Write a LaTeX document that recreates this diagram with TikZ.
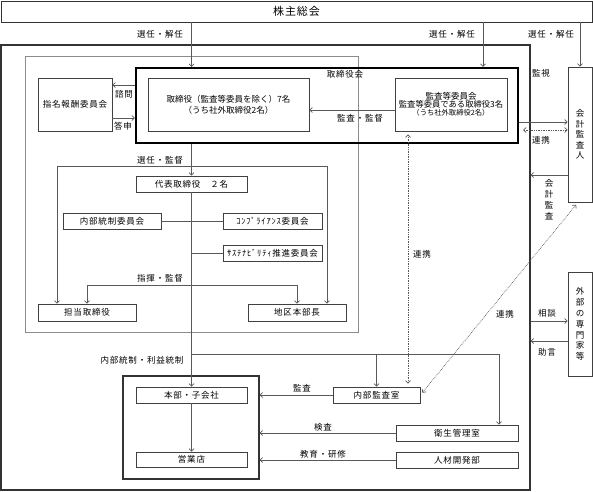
\documentclass[tikz,border=0pt]{standalone}
\usepackage{fontspec}
\newfontfamily\jpfont{Noto Sans CJK JP}
\newfontfamily\jpwide{Noto Sans CJK JP}[LetterSpace=9]
\usetikzlibrary{arrows.meta}

\begin{document}
\begin{tikzpicture}[
  x=1pt, y=-1pt,
  >={Straight Barb[length=2.5pt,width=5pt]},
  font=\jpwide\fontsize{8.5}{10}\selectfont,
  box/.style={draw=black!75, line width=0.8pt, inner sep=0pt, minimum height=16pt},
  frame/.style={draw=black!80, inner sep=0pt},
  lbl/.style={inner sep=0pt},
  conn/.style={draw=black!65, line width=0.7pt},
  arr/.style={conn, ->},
  dotarr/.style={conn, densely dotted, <->}]
\useasboundingbox (0,0) rectangle (593,491);

% frames
\node[frame, line width=0.9pt, minimum width=591pt, minimum height=21pt,
  font=\jpwide\fontsize{11}{13}\selectfont] (kabunushi) at (296.5,11.5) {株主総会};
\node[frame, line width=1.1pt, minimum width=529pt, minimum height=445pt] (kaisha) at (265.5,267.5) {};
\node[frame, draw=black!45, line width=0.6pt, minimum width=333pt, minimum height=276pt] (shikko) at (191.5,194) {};
\node[frame, draw=black, line width=2.2pt, minimum width=382pt, minimum height=75pt] (torikai) at (327,105.5) {};
\node[frame, line width=1.1pt, minimum width=136pt, minimum height=103pt] (genba) at (191,427.5) {};

% boxes
\node[box, minimum width=161pt, minimum height=53pt, align=center,
  font=\jpfont\fontsize{8.5}{11}\selectfont] (torishimari) at (228.5,104.5)
  {取締役（監査等委員を除く）7名\\（うち社外取締役2名）};
\node[box, minimum width=112pt, minimum height=53pt, align=center,
  font=\jpfont\fontsize{8.5}{8.2}\selectfont] (kansa) at (451,104.5)
  {監査等委員会\\{\fontsize{8.3}{8.2}\selectfont 監査等委員である取締役3名}\\{\fontsize{7.3}{8.2}\selectfont （うち社外取締役2名）}};
\node[box, minimum width=74pt, minimum height=53pt] (shimei) at (75,104.5) {指名報酬委員会};
\node[box, minimum width=24pt, minimum height=135pt, align=center,
  font=\jpfont\fontsize{8.5}{10.5}\selectfont] (kaikei) at (580,134.5) {会\\計\\監\\査\\人};
\node[box, minimum width=24pt, minimum height=104pt, align=center,
  font=\jpfont\fontsize{8.5}{10.8}\selectfont] (gaibu) at (580,324) {外\\部\\の\\専\\門\\家\\等};
\node[box, minimum width=111pt] (daihyo) at (191.5,184) {代表取締役　２名};
\node[box, minimum width=98pt] (naibutosei) at (112,221) {内部統制委員会};
\node[box, minimum width=99pt] (compliance) at (272.5,221) {ｺﾝﾌﾟﾗｲｱﾝｽ委員会};
\node[box, minimum width=99pt] (sustain) at (272.5,253) {ｻｽﾃﾅﾋﾞﾘﾃｨ推進委員会};
\node[box, minimum width=98pt, minimum height=17pt] (tanto) at (87,312.5) {担当取締役};
\node[box, minimum width=98pt, minimum height=17pt] (chiku) at (297,312.5) {地区本部長};
\node[box, minimum width=111pt] (honbu) at (191.5,395) {本部・子会社};
\node[box, minimum width=111pt, minimum height=15pt] (eigyo) at (191.5,459.5) {営業店};
\node[box, minimum width=87pt] (naibukansa) at (376.5,395) {内部監査室};
\node[box, minimum width=122pt] (eisei) at (457,433) {衛生管理室};
\node[box, minimum width=122pt] (jinzai) at (457,460) {人材開発部};

% labels
\node[lbl] (senninA) at (160,34) {選任・解任};
\node[lbl] (senninB) at (452,34) {選任・解任};
\node[lbl] (senninC) at (551,34) {選任・解任};
\node[lbl] (torikaiLbl) at (345,74) {取締役会};
\node[lbl] (shimon) at (124,94) {諮問};
\node[lbl] (toshin) at (123,126) {答申};
\node[lbl] (kantoku) at (360,118) {監査・監督};
\node[lbl] (kanshi) at (541,73) {監視};
\node[lbl] (renkeiA) at (541,140) {連携};
\node[lbl, align=center, font=\jpfont\fontsize{8.5}{11}\selectfont] (kaikeikansa) at (549,199.5) {会\\計\\監\\査};
\node[lbl] (sodan) at (547,313) {相談};
\node[lbl] (jogen) at (547,352) {助言};
\node[lbl] (renkeiB) at (422,254) {連携};
\node[lbl] (renkeiC) at (505,314) {連携};
\node[lbl] (senkanLbl) at (160,160) {選任・監督};
\node[lbl] (shikiLbl) at (160,278) {指揮・監督};
\node[lbl] (toseiLbl) at (142,360) {内部統制・利益統制};
\node[lbl] (kansaLbl) at (302,388) {監査};
\node[lbl] (kensa) at (323,427) {検査};
\node[lbl] (kyoiku) at (323,454) {教育・研修};

% connectors
\draw[arr] (kabunushi.south -| daihyo) -- (torikai.north -| daihyo);
\draw[arr] (kabunushi.south -| 483,0) -- (torikai.north -| 483,0);
\draw[arr] (kabunushi.south -| kaikei) -- (kaikei.north);
\draw[arr] (torikai.west |- 0,85) -- (shimei.east |- 0,85);
\draw[arr] (shimei.east |- 0,118) -- (torikai.west |- 0,118);
\draw[arr] (kansa.west |- 0,110) -- (torishimari.east |- 0,110);
\draw[arr] (torikai.east |- 0,122) -- (kaikei.west |- 0,122);
\draw[dotarr, shorten <=4pt] (torikai.east |- 0,130) -- (kaikei.west |- 0,130);
\draw[arr] (kaikei.west |- 0,175) -- (kaisha.east |- 0,175);
\draw[arr] (kaisha.east |- 0,321) -- (gaibu.west |- 0,321);
\draw[arr] (gaibu.west |- 0,341) -- (kaisha.east |- 0,341);
\draw[dotarr, shorten <=3pt, shorten >=3pt] (kansa.south -| 408,0) -- (naibukansa.north -| 408,0);
\draw[dotarr, shorten <=3pt, shorten >=3pt] (naibukansa.east) -- ([xshift=-2pt]kaikei.south);

\draw[arr] (torikai.south -| daihyo) -- (daihyo.north);
\coordinate (jSenkan) at (daihyo.north |- 0,166);
\draw[arr] (jSenkan) -| (tanto.north -| 57,0);
\draw[arr] (jSenkan) -| (chiku.north -| 327,0);
\coordinate (jShiki) at (daihyo.south |- 0,285);
\draw[arr] (jShiki) -| (tanto.north);
\draw[arr] (jShiki) -| (chiku.north);
\draw[conn] (naibutosei.east) -- (compliance.west);
\draw[conn] (daihyo.south |- sustain.west) -- (sustain.west);
\draw[arr] (daihyo.south) -- (honbu.north);
\coordinate (jTosei) at (daihyo.south |- 0,354);
\draw[arr] (jTosei) -| (naibukansa.north);
\draw[arr] (jTosei) -| (eisei.north -| 499,0);
\draw[arr] (honbu.south) -- (eigyo.north);
\draw[arr] (naibukansa.west) -- (genba.east |- naibukansa.west);
\draw[arr] (eisei.west) -- (genba.east |- eisei.west);
\draw[arr] (jinzai.west) -- (genba.east |- jinzai.west);
\end{tikzpicture}
\end{document}
